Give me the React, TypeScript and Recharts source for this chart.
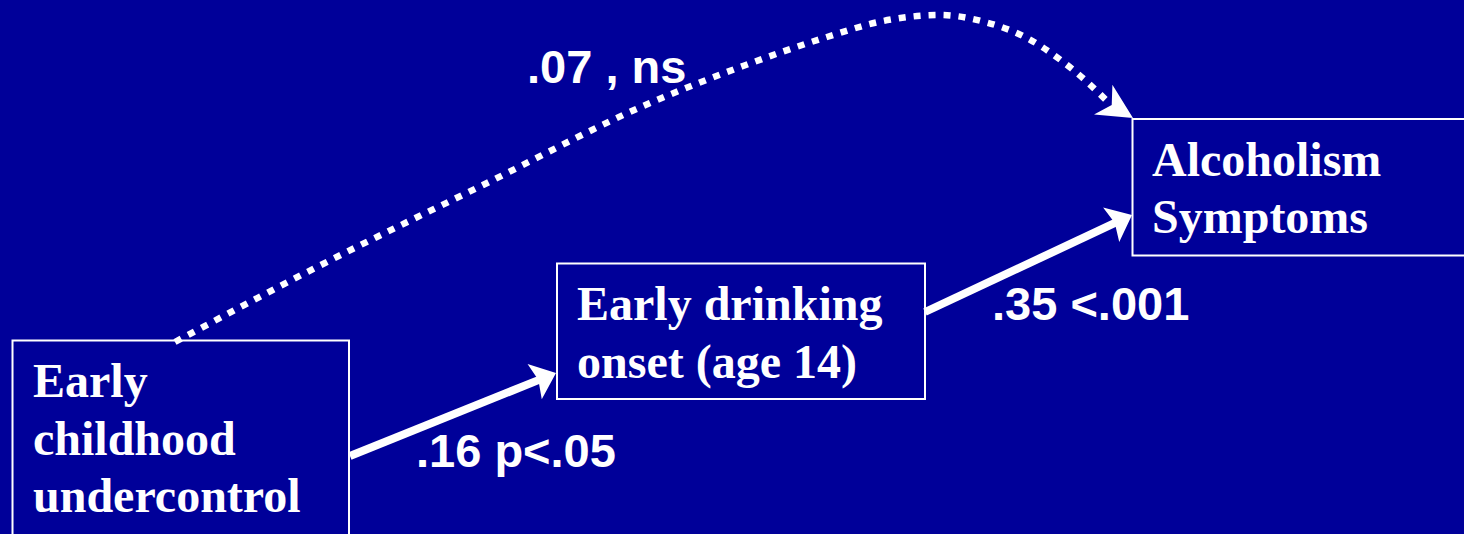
import React from 'react';
import { ComposedChart, XAxis, YAxis, ReferenceArea, ReferenceLine, Line, Scatter } from 'recharts';

const W = 1464;
const H = 534;
const BG = '#000099';
const FG = '#ffffff';

// Node boxes (diagram coordinates)
const boxes = [
  { name: 'Early childhood undercontrol', x1: 12.5, x2: 349, y1: 340.5, y2: 600 },
  { name: 'Early drinking onset (age 14)', x1: 557, x2: 925, y1: 263.5, y2: 399 },
  { name: 'Alcoholism Symptoms', x1: 1132.5, x2: 1520, y1: 119, y2: 255.5 },
];

// Node text lines
const boxLines = [
  { x: 33, y: 397, text: 'Early' },
  { x: 33, y: 455, text: 'childhood' },
  { x: 33, y: 512, text: 'undercontrol' },
  { x: 577, y: 320, text: 'Early drinking' },
  { x: 577, y: 378, text: 'onset (age 14)' },
  { x: 1152, y: 176, text: 'Alcoholism' },
  { x: 1152, y: 233, text: 'Symptoms' },
];

// Path coefficient labels
const pathLabels = [
  { x: 416, y: 467, text: '.16 p<.05' },
  { x: 992, y: 320, text: '.35 <.001' },
  { x: 527, y: 83, text: '.07 , ns' },
];

// Direct (solid) paths: start -> arrow tip
const solidPaths = [
  { from: { x: 350, y: 456 }, to: { x: 556, y: 373 } },
  { from: { x: 925, y: 312 }, to: { x: 1132, y: 215 } },
];

// Indirect (dotted) path, curve points
const curvePoints = [
  { x: 175, y: 342 },
  { x: 317, y: 267 },
  { x: 483, y: 185 },
  { x: 650, y: 103 },
  { x: 743, y: 66 },
  { x: 827, y: 37 },
  { x: 883, y: 21 },
  { x: 940, y: 15 },
  { x: 985, y: 22 },
  { x: 1025, y: 37 },
  { x: 1062, y: 61 },
  { x: 1085, y: 80 },
  { x: 1106, y: 100 },
];
const curveHead = { from: { x: 1103, y: 99.5 }, to: { x: 1133, y: 118 } };

function arrowShape(len: number, half: number, notch: number, shaft: boolean) {
  return (props: any) => {
    const { x1, y1, x2, y2 } = props;
    const dx = x2 - x1;
    const dy = y2 - y1;
    const d = Math.sqrt(dx * dx + dy * dy) || 1;
    const ux = dx / d;
    const uy = dy / d;
    const nx = -uy;
    const ny = ux;
    const bx = x2 - ux * len;
    const by = y2 - uy * len;
    const cx = x2 - ux * (len - notch);
    const cy = y2 - uy * (len - notch);
    const pts = `${x2},${y2} ${bx + nx * half},${by + ny * half} ${cx},${cy} ${bx - nx * half},${by - ny * half}`;
    return (
      <g>
        {shaft && (
          <line x1={x1} y1={y1} x2={cx + ux * 2} y2={cy + uy * 2} stroke={FG} strokeWidth={8} />
        )}
        <polygon points={pts} fill={FG} />
      </g>
    );
  };
}

const serifText = (props: any) => (
  <text
    x={props.cx}
    y={props.cy}
    fill={FG}
    fontFamily="'Liberation Serif', 'Times New Roman', serif"
    fontWeight="bold"
    fontSize={48}
  >
    {props.payload.text}
  </text>
);

const sansText = (props: any) => (
  <text
    x={props.cx}
    y={props.cy}
    fill={FG}
    fontFamily="'Liberation Sans', Arial, sans-serif"
    fontWeight="bold"
    fontSize={47}
  >
    {props.payload.text}
  </text>
);

export default function App() {
  return (
    <div style={{ position: 'absolute', left: 0, top: 0, width: W, height: H, background: BG }}>
      <ComposedChart width={W} height={H} margin={{ top: 0, right: 0, bottom: 0, left: 0 }}>
        <XAxis type="number" dataKey="x" domain={[0, W]} hide allowDataOverflow />
        <YAxis type="number" dataKey="y" domain={[0, H]} reversed hide allowDataOverflow />
        {boxes.map((b) => (
          <ReferenceArea
            key={b.name}
            x1={b.x1}
            x2={b.x2}
            y1={b.y1}
            y2={b.y2}
            fill="none"
            fillOpacity={0}
            stroke={FG}
            strokeWidth={2}
            strokeOpacity={1}
            ifOverflow="visible"
          />
        ))}
        <Line
          data={curvePoints}
          dataKey="y"
          type="monotone"
          stroke={FG}
          strokeWidth={6.5}
          strokeDasharray="7 8"
          dot={false}
          activeDot={false}
          isAnimationActive={false}
        />
        {solidPaths.map((p, i) => (
          <ReferenceLine
            key={'s' + i}
            segment={[p.from, p.to]}
            shape={arrowShape(23, 19, 4, true)}
            ifOverflow="visible"
          />
        ))}
        <ReferenceLine
          segment={[curveHead.from, curveHead.to]}
          shape={arrowShape(35, 17.5, 10, false)}
          ifOverflow="visible"
        />
        <Scatter data={boxLines} dataKey="y" shape={serifText} isAnimationActive={false} />
        <Scatter data={pathLabels} dataKey="y" shape={sansText} isAnimationActive={false} />
      </ComposedChart>
    </div>
  );
}
